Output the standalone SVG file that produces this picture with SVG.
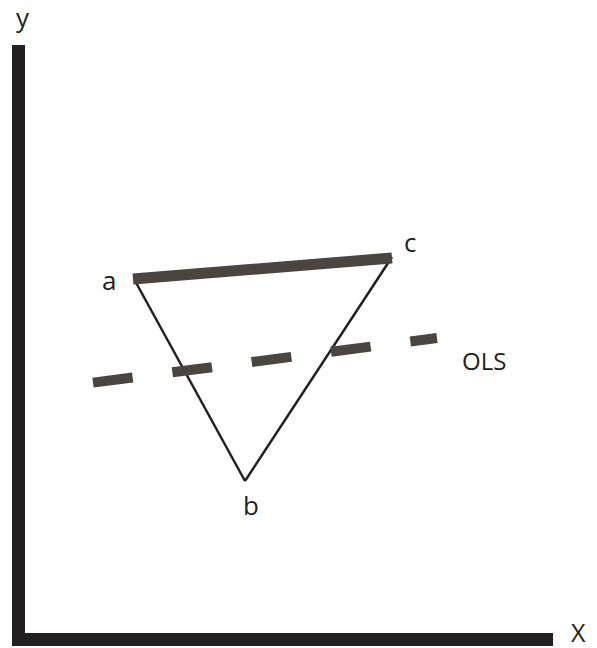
<svg xmlns="http://www.w3.org/2000/svg" width="597" height="648" viewBox="0 0 597 648">
<style>
text{font-family:"Open Sans",Lato,"DejaVu Sans",sans-serif;font-size:26px;fill:#231f20}
.axis{fill:#231f20}
.thin{stroke:#231f20;stroke-width:2.5;fill:none}
.thick{stroke:#4b4540;stroke-width:11;fill:none}
.dash{stroke:#4b4540;stroke-width:10;fill:none;stroke-dasharray:40 40}
</style>
<rect width="597" height="648" fill="#fff"/>
<g id="axes">
<rect class="axis" x="12" y="45" width="13" height="601"/>
<rect class="axis" x="12" y="633" width="541" height="13"/>
</g>
<g id="connectors">
<line class="thin" x1="134" y1="279" x2="245" y2="481"/>
<line class="thin" x1="392" y1="257" x2="245" y2="481"/>
<line class="thick" x1="133" y1="279" x2="392" y2="258"/>
<line class="dash" x1="93" y1="382.6" x2="437" y2="338"/>
</g>
<g id="labels">
<text x="16" y="27">y</text>
<text x="102" y="290">a</text>
<text x="404" y="252">c</text>
<text x="243" y="515">b</text>
<text x="462" y="370" style="font-size:24px">OLS</text>
<text x="571" y="642" style="font-size:25px">X</text>
</g>
</svg>
